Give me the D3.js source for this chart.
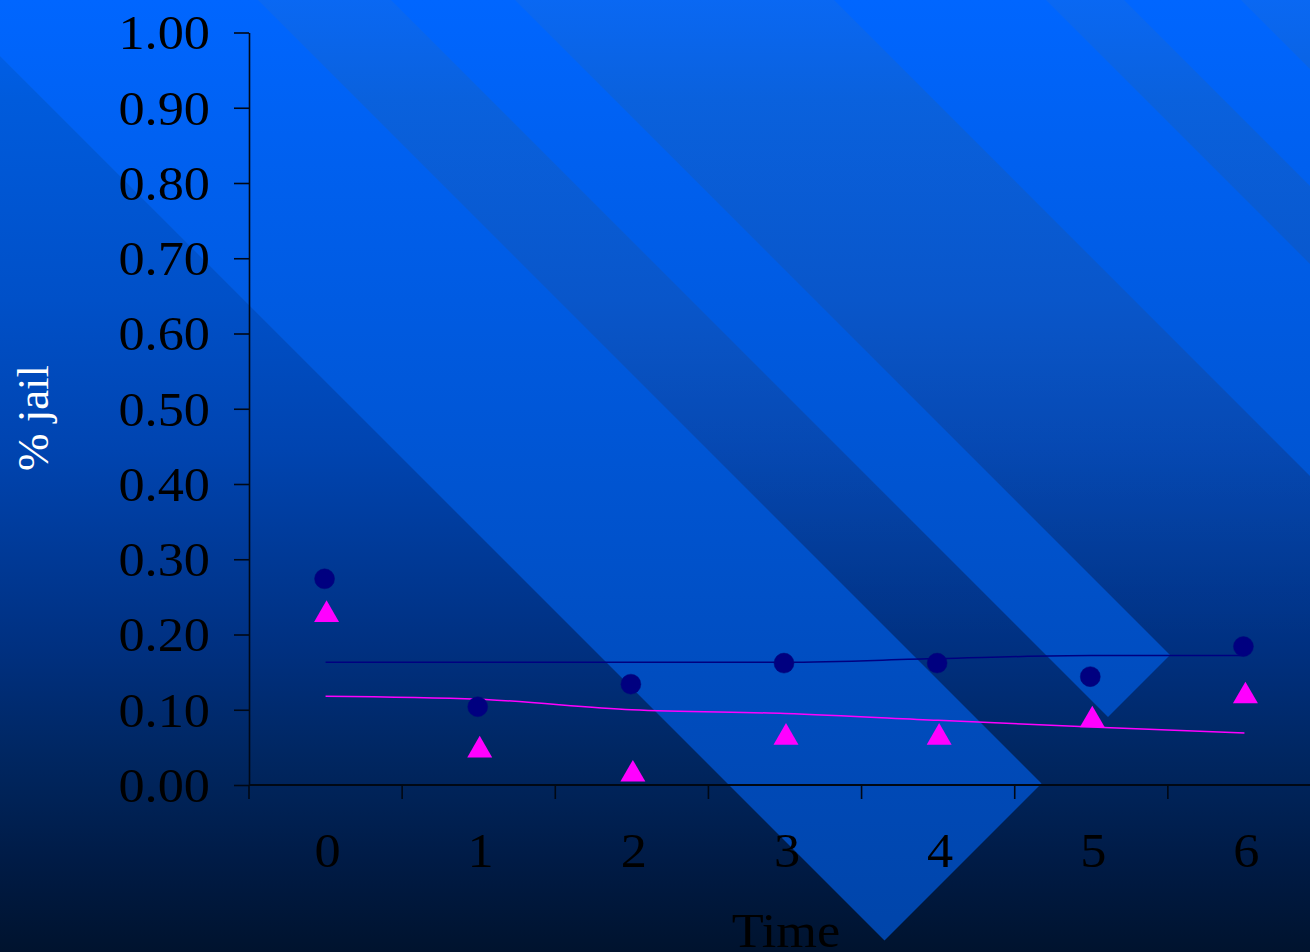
<!DOCTYPE html>
<html>
<head>
<meta charset="utf-8">
<script src="https://cdn.jsdelivr.net/npm/d3@7"></script>
<style>
  html, body { margin: 0; padding: 0; background: #001430; }
  svg { display: block; }
  text { font-family: "Liberation Serif", "Times New Roman", serif; }
</style>
</head>
<body>
<svg id="chart" width="1310" height="952"></svg>
<script>
// ---- data ----
const categories = ["0", "1", "2", "3", "4", "5", "6"];
const circleValues = [0.274, 0.104, 0.134, 0.162, 0.162, 0.144, 0.184];
const triangleValues = [0.231, 0.051, 0.019, 0.068, 0.068, 0.091, 0.123];
const circleTrend = [0.163, 0.163, 0.163, 0.163, 0.168, 0.172, 0.172];
const triangleTrend = [0.118, 0.114, 0.100, 0.095, 0.086, 0.077, 0.069];
const yTickValues = [0, 0.1, 0.2, 0.3, 0.4, 0.5, 0.6, 0.7, 0.8, 0.9, 1.0];

// ---- layout ----
const W = 1310, H = 952;
const plot = { left: 249, right: 1321, top: 32.5, bottom: 785 };
const textStretch = 1.09; // slide text is set slightly wide

const svg = d3.select("#chart");
const defs = svg.append("defs");

function vGradient(id, stops) {
  const g = defs.append("linearGradient")
    .attr("id", id).attr("gradientUnits", "userSpaceOnUse")
    .attr("x1", 0).attr("y1", 0).attr("x2", 0).attr("y2", H);
  stops.forEach(([off, col, op]) => {
    g.append("stop").attr("offset", off / H).attr("stop-color", col)
      .attr("stop-opacity", op == null ? 1 : op);
  });
}

// slide background: deep blue fading to navy
vGradient("bgGrad", [
  [0, "#0062f2"], [100, "#005bdc"], [300, "#0050c8"], [450, "#0044b0"],
  [550, "#003a98"], [650, "#003080"], [750, "#002763"], [800, "#002256"],
  [860, "#001b46"], [952, "#00132e"]
]);
// brighter ribbons
vGradient("ribbonGrad", [
  [0, "#0066ff"], [300, "#005be2"], [540, "#0052cc"], [785, "#0049b6"], [952, "#0044a8"]
]);
// faint sheen to the right of the first ribbon edge
vGradient("sheenGrad", [
  [0, "#ffffff", 0.04], [350, "#ffffff", 0.035], [650, "#ffffff", 0.0], [952, "#ffffff", 0]
]);

const bg = svg.append("g");
bg.append("rect").attr("width", W).attr("height", H).attr("fill", "url(#bgGrad)");

// 45-degree ribbons: edges are lines x - y = c, tips cut by x + y = cut
const cut = 1825;
const ribbons = [[-56, 258], [391, 515], [834, 1046], [1124, 1241]];
bg.append("path")
  .attr("d", `M${-56 - 3000},${-3000} L${4000},${-3000} L${4000},${4000} L${-56 + 4000},${4000} Z`)
  .attr("fill", "url(#sheenGrad)");
bg.selectAll("path.ribbon").data(ribbons).join("path")
  .attr("class", "ribbon")
  .attr("d", ([c1, c2]) => {
    const t = -2000;
    return `M${c1 + t},${t} L${c2 + t},${t} L${(cut + c2) / 2},${(cut - c2) / 2} L${(cut + c1) / 2},${(cut - c1) / 2} Z`;
  })
  .attr("fill", "url(#ribbonGrad)");

// ---- scales ----
const x = d3.scaleBand().domain(categories).range([plot.left, plot.right]).paddingInner(0).paddingOuter(0);
const y = d3.scaleLinear().domain([0, 1]).range([plot.bottom, plot.top]);
const cx = d => x(d) + x.bandwidth() / 2;

const axisColor = "#000814";

function widen(sel) {
  sel.each(function () {
    const w = this.getComputedTextLength();
    d3.select(this).attr("textLength", w * textStretch).attr("lengthAdjust", "spacingAndGlyphs");
  });
}

// ---- y axis ----
const yAxis = svg.append("g")
  .attr("transform", `translate(${plot.left},0)`)
  .call(d3.axisLeft(y).tickValues(yTickValues).tickFormat(d3.format(".2f"))
    .tickSize(15).tickSizeOuter(0).tickPadding(24));
yAxis.select(".domain").attr("stroke", axisColor).attr("stroke-width", 1.6);
yAxis.selectAll(".tick line").attr("stroke", axisColor).attr("stroke-width", 1.6);
yAxis.selectAll(".tick text").attr("fill", "#000").attr("font-size", 48)
  .attr("font-family", "Liberation Serif, serif").attr("dy", "0.34em")
  .call(widen);

// ---- x axis: ticks between categories, labels centered ----
const xAxis = svg.append("g").attr("transform", `translate(0,${plot.bottom})`);
xAxis.append("line")
  .attr("x1", plot.left).attr("x2", plot.right).attr("y1", 0).attr("y2", 0)
  .attr("stroke", axisColor).attr("stroke-width", 2);
xAxis.selectAll("line.tk").data(categories).join("line")
  .attr("class", "tk")
  .attr("x1", d => x(d)).attr("x2", d => x(d)).attr("y1", 0).attr("y2", 14)
  .attr("stroke", axisColor).attr("stroke-width", 1.6);
xAxis.selectAll("text.lbl").data(categories).join("text")
  .attr("class", "lbl")
  .attr("x", d => cx(d) + 2).attr("y", 82)
  .attr("text-anchor", "middle").attr("font-size", 48).attr("fill", "#000")
  .text(d => d)
  .call(widen);

// ---- axis titles ----
svg.append("text")
  .attr("transform", "translate(48,418) rotate(-90)")
  .attr("text-anchor", "middle").attr("font-size", 45).attr("fill", "#ffffff")
  .text("% jail");
svg.append("text")
  .attr("x", 786).attr("y", 947)
  .attr("text-anchor", "middle").attr("font-size", 48).attr("fill", "#000")
  .text("Time")
  .call(widen);

// ---- trend lines ----
const line = d3.line().x((d, i) => cx(categories[i])).y(d => y(d)).curve(d3.curveMonotoneX);
svg.append("path").datum(circleTrend).attr("d", line)
  .attr("fill", "none").attr("stroke", "#000080").attr("stroke-width", 1.5);
svg.append("path").datum(triangleTrend).attr("d", line)
  .attr("fill", "none").attr("stroke", "#ff00ff").attr("stroke-width", 1.5);

// ---- markers ----
svg.selectAll("circle.pt").data(circleValues).join("circle")
  .attr("class", "pt")
  .attr("cx", (d, i) => cx(categories[i]) - 1).attr("cy", d => y(d)).attr("r", 10)
  .attr("fill", "#000080").attr("stroke", "#000a78").attr("stroke-width", 0.5);

const triSize = 270;
const triHeight = Math.sqrt(triSize * Math.sqrt(3));
const tri = d3.symbol().type(d3.symbolTriangle).size(triSize);
svg.selectAll("path.tri").data(triangleValues).join("path")
  .attr("class", "tri")
  .attr("transform", (d, i) => `translate(${cx(categories[i]) + 1},${y(d) + triHeight / 6})`)
  .attr("d", tri)
  .attr("fill", "#ff00ff");
</script>
</body>
</html>
